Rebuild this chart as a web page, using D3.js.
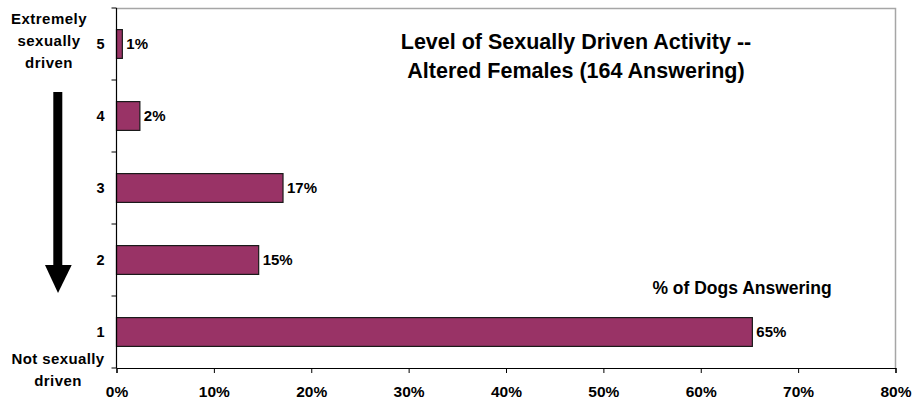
<!DOCTYPE html>
<html><head><meta charset="utf-8">
<script src="https://cdn.jsdelivr.net/npm/d3@7"></script>
<style>body{margin:0;background:#fff}svg{display:block}text{font-family:"Liberation Sans",Arial,sans-serif;font-weight:bold;fill:#000}</style>
</head><body><svg id="c" width="913" height="403"></svg>
<script>
const categories = ["5","4","3","2","1"];
const values = [0.6, 2.4, 17.1, 14.6, 65.3];
const valueLabels = ["1%","2%","17%","15%","65%"];
const xTicks = [0,10,20,30,40,50,60,70,80];
const titleLines = ["Level of Sexually Driven Activity --","Altered Females (164 Answering)"];

const svg = d3.select("#c");
const L=116.5, R=895.5, T=8, B=368;
const x = d3.scaleLinear().domain([0,80]).range([L,R]);
const y = d3.scaleBand().domain(categories).range([T,B]).paddingInner(0.6).paddingOuter(0.3);

// plot frame (top, right gray)
svg.append("path").attr("d",`M${L},${T+0.5}H${R}V${B}`).attr("fill","none").attr("stroke","#a6a6a6").attr("stroke-width",1.5);

// bars
svg.selectAll("rect.bar").data(categories).join("rect")
  .attr("x",x(0)).attr("y",(d)=>y(d))
  .attr("width",(d,i)=>x(values[i])-x(0)).attr("height",y.bandwidth())
  .attr("fill","#993366").attr("stroke","#1a1a1a").attr("stroke-width",1.2);

// value labels
svg.selectAll("text.val").data(categories).join("text")
  .attr("x",(d,i)=>x(values[i])+4).attr("y",(d)=>y(d)+y.bandwidth()/2)
  .attr("dy","0.36em").attr("font-size",15).text((d,i)=>valueLabels[i]);

// x axis
const xa = svg.append("g").attr("transform",`translate(0,${B})`)
  .call(d3.axisBottom(x).tickValues(xTicks).tickSize(5).tickPadding(13).tickFormat(d=>d+"%"));
xa.select(".domain").attr("stroke","#000").attr("stroke-width",1.2);
xa.selectAll(".tick line").attr("stroke","#000");
xa.selectAll("text").attr("font-size",15.5).attr("font-family","Liberation Sans, Arial, sans-serif").attr("font-weight","bold").attr("fill","#000");

// y axis
const yStep = (B-T)/categories.length;
const ya = svg.append("g").attr("transform",`translate(${L},0)`);
ya.append("line").attr("x1",0).attr("x2",0).attr("y1",T).attr("y2",B).attr("stroke","#000").attr("stroke-width",1.2);
ya.selectAll("line.t").data(d3.range(categories.length+1)).join("line")
  .attr("x1",-5).attr("x2",0).attr("y1",d=>T+d*yStep).attr("y2",d=>T+d*yStep).attr("stroke","#000");
svg.selectAll("text.cat").data(categories).join("text")
  .attr("x",104.5).attr("y",d=>y(d)+y.bandwidth()/2).attr("dy","0.36em")
  .attr("text-anchor","end").attr("font-size",14.5).text(d=>d);

// title
svg.selectAll("text.title").data(titleLines).join("text")
  .attr("x",576).attr("y",(d,i)=>41+i*29).attr("dy","0.36em")
  .attr("text-anchor","middle").attr("font-size",21.5).text(d=>d);

// series label
svg.append("text").attr("x",742).attr("y",288).attr("dy","0.36em").attr("text-anchor","middle")
  .attr("font-size",17.5).text("% of Dogs Answering");

// left side labels
const topLabel = ["Extremely","sexually","driven"];
svg.selectAll("text.tl").data(topLabel).join("text")
  .attr("x",49).attr("y",(d,i)=>19+i*22).attr("dy","0.36em").attr("text-anchor","middle")
  .attr("font-size",15).attr("letter-spacing",0.5).text(d=>d);
const botLabel = ["Not sexually","driven"];
svg.selectAll("text.bl").data(botLabel).join("text")
  .attr("x",58).attr("y",(d,i)=>359+i*22).attr("dy","0.36em").attr("text-anchor","middle")
  .attr("font-size",15).attr("letter-spacing",0.4).text(d=>d);

// arrow
svg.append("rect").attr("x",53.3).attr("y",92).attr("width",9).attr("height",174).attr("fill","#000");
svg.append("path").attr("d","M45,265L71.7,265L58,293Z").attr("fill","#000");
</script></body></html>
